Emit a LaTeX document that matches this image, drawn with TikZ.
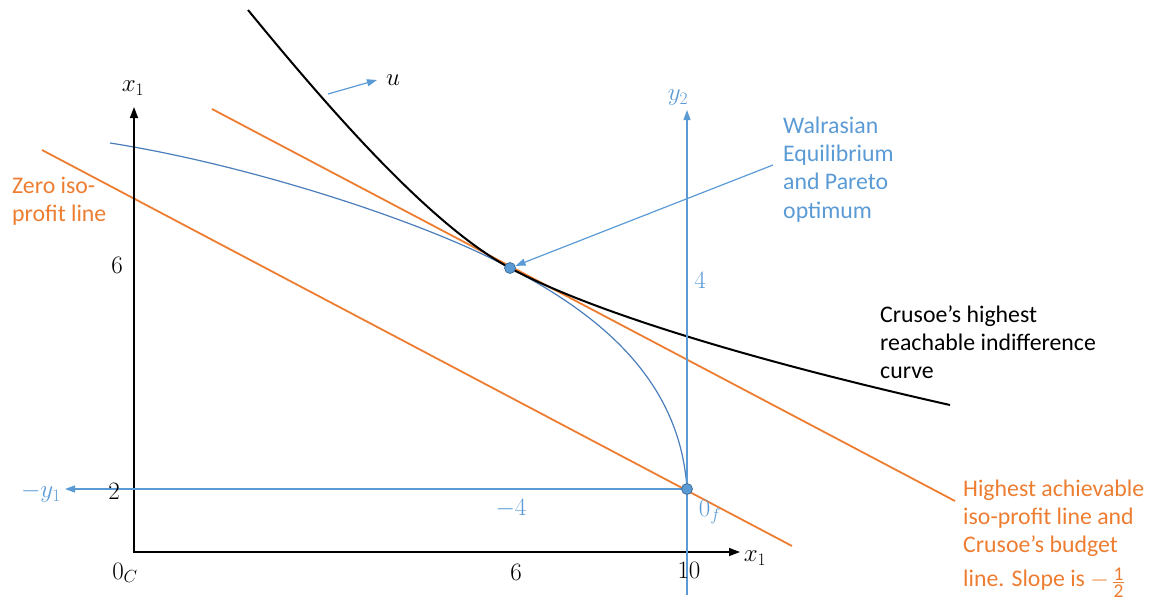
\RequirePackage{fix-cm}
\documentclass[tikz,border=0pt]{standalone}
\usepackage{fontspec}
\newfontfamily\calibri{Carlito}
\usetikzlibrary{arrows.meta}
\definecolor{oblue}{HTML}{5B9BD5}
\definecolor{dblue}{HTML}{4A7EBB}
\definecolor{orng}{HTML}{ED7D31}
\definecolor{dotedge}{HTML}{41719C}
\newcommand{\myhalf}{\raisebox{-11pt}{\fontsize{19.5}{19.5}\selectfont\vbox{\hbox to 11pt{\hss 1\hss}\kern1.5pt\hrule width 11pt height 0.9pt\kern1.5pt\hbox to 11pt{\hss 2\hss}}}}
\begin{document}
\begin{tikzpicture}[x=1pt,y=-1pt,
  lbl/.style={font=\fontsize{25}{30}\selectfont, inner sep=0pt},
  txt/.style={font=\calibri\fontsize{23.8}{28.3}\selectfont, align=left, inner sep=0pt, anchor=north west},
  axisline/.style={line width=1.3pt, black, {Triangle[length=11pt,width=8pt]}-{Triangle[length=11pt,width=8pt]}},
  bluearrow/.style={line width=1.2pt, oblue, -{Triangle[length=10pt,width=7pt]}},
  isoprofit/.style={line width=1.8pt, orng},
  indiff/.style={line width=2pt, black},
  prodcurve/.style={line width=1.2pt, dblue},
  dot/.style={circle, fill=oblue, draw=dotedge, line width=0.8pt, minimum size=11pt, inner sep=0pt}
]
\useasboundingbox (0,0) rectangle (1159,602);

% coordinates
\coordinate (O) at (134,552);
\coordinate (ytip) at (134,107);
\coordinate (xtip) at (740,552);
\coordinate (Tp) at (510,268);
\coordinate (Ofp) at (687,489);
\coordinate (y2bot) at (687,595);
\coordinate (y2tip) at (687,110);
\coordinate (y1tip) at (65,489);
\coordinate (zA) at (42,150);
\coordinate (zB) at (792,546);
\coordinate (hA) at (212,109);
\coordinate (hB) at (955,501);
\coordinate (pA) at (110,143);
\coordinate (iA) at (248,10);
\coordinate (iB) at (950,405);
\coordinate (uA) at (328,94);
\coordinate (uB) at (377,80);
\coordinate (wA) at (773,165);

% orange iso-profit lines
\draw[isoprofit] (zA) -- (zB);
\draw[isoprofit] (hA) -- (hB);

% production possibility curve
\draw[prodcurve] (pA) .. controls (250,165) and (425,222) .. (Tp)
  .. controls (600,315) and (680,380) .. (Ofp);

% indifference curve
\draw[indiff] (iA) .. controls (330,110) and (430,225) .. (Tp)
  .. controls (590,311) and (750,360) .. (iB);

% axes
\draw[axisline] (ytip) -- (O) -- (xtip);

% firm axes
\draw[bluearrow] (y2bot) -- (y2tip);
\draw[bluearrow] (Ofp) -- (y1tip);

% u arrow
\draw[bluearrow] (uA) -- (uB);

% points
\node[dot] (T) at (Tp) {};
\node[dot] (Of) at (Ofp) {};

% Walrasian arrow
\draw[bluearrow] (wA) -- (T);

% math labels
\node[lbl] (lx1v) at (133,88) {$x_1$};
\node[lbl] (lx1h) at (755,558) {$x_1$};
\node[lbl] (lu) at (393,80) {$u$};
\node[lbl, oblue] (ly2) at (678,98) {$y_2$};
\node[lbl, oblue] (ly1) at (41,493) {$-y_1$};
\node[lbl] (l2) at (114,491) {$2$};
\node[lbl] (l6v) at (117,265) {$6$};
\node[lbl] (l0c) at (125,573) {$0_C$};
\node[lbl] (l6h) at (516,572) {$6$};
\node[lbl] (l10) at (689,570) {$10$};
\node[lbl, oblue] (lm4) at (511,508) {$-4$};
\node[lbl, oblue] (l4) at (700,280) {$4$};
\node[lbl, oblue] (l0f) at (710,512) {$0_f$};

% texts
\node[txt, oblue] (walras) at (783,115) {\rule{0pt}{18pt}Walrasian\\Equilibrium\\and Pareto\\optimum};
\node[txt, orng] (zero) at (12,175) {\rule{0pt}{18pt}Zero iso-\\profit line};
\node[txt, black] (crusoe) at (880,304) {\rule{0pt}{18pt}Crusoe’s highest\\reachable indifference\\curve};
\node[txt, orng] (highest) at (963,478) {\rule{0pt}{18pt}Highest achievable\\iso-profit line and\\Crusoe’s budget\\[5pt]line. Slope is $-$\,\myhalf};
\end{tikzpicture}
\end{document}
